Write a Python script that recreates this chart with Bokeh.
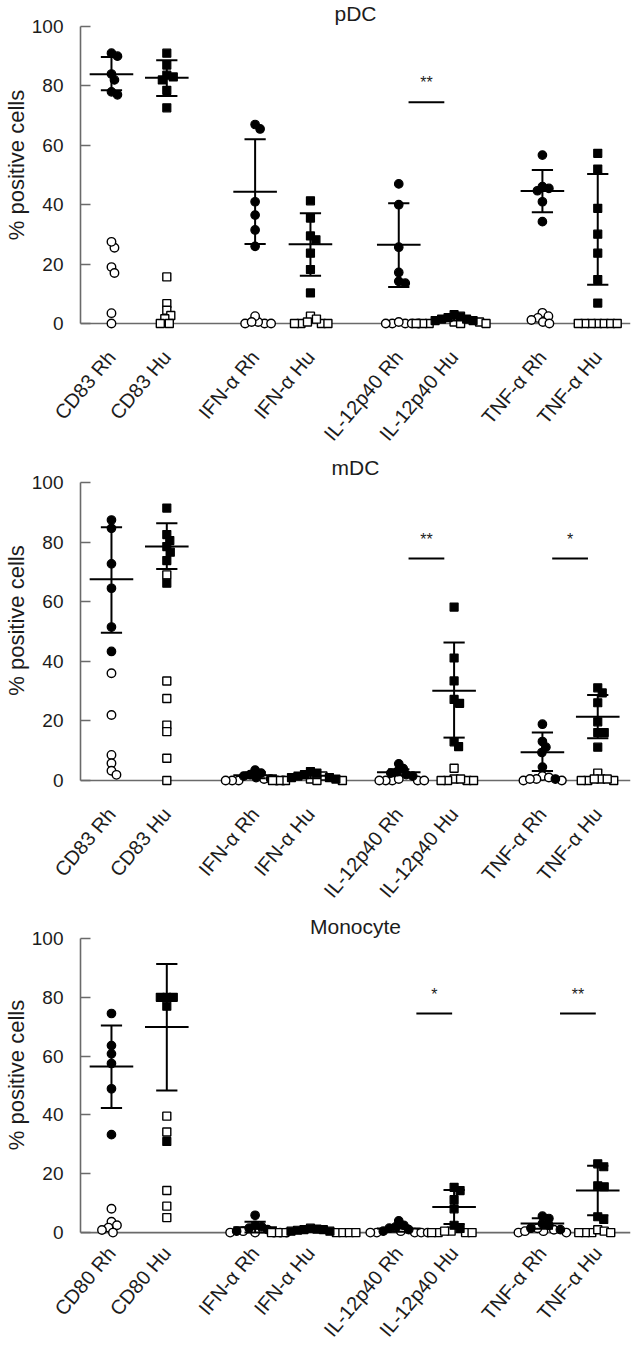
import math
from bokeh.plotting import figure
from bokeh.models import FixedTicker, Span, Label, Range1d
from bokeh.layouts import column
from bokeh.embed import file_html
from bokeh.resources import INLINE

# ---------------- data ----------------
panel_titles = ["pDC", "mDC", "Monocyte"]
categories_pdc = ["CD83 Rh", "CD83 Hu", "IFN-α Rh", "IFN-α Hu",
                  "IL-12p40 Rh", "IL-12p40 Hu", "TNF-α Rh", "TNF-α Hu"]
categories_mdc = ["CD83 Rh", "CD83 Hu", "IFN-α Rh", "IFN-α Hu",
                  "IL-12p40 Rh", "IL-12p40 Hu", "TNF-α Rh", "TNF-α Hu"]
categories_mono = ["CD80 Rh", "CD80 Hu", "IFN-α Rh", "IFN-α Hu",
                   "IL-12p40 Rh", "IL-12p40 Hu", "TNF-α Rh", "TNF-α Hu"]
y_ticks = [0, 20, 40, 60, 80, 100]

NaN = float("nan")

# filled symbols (one list per category)
pdc_filled = [
    [90, 91, 84, 82, 77, 78],
    [91, 87, 83.6, 83, 82, 78.5, 72.6],
    [67, 65.5, 41, 36.5, 31.5, 26],
    [41.3, 35.5, 29.5, 28.2, 23.7, 18.2, 10.3],
    [47, 40, 25.7, 17.2, 14.2, 13.6],
    [3, 2.5, 2, 1.5, 1.5, 1, 1],
    [56.7, 46.1, 45.5, 44.7, 41, 34.3],
    [57.3, 52, 38.8, 30.1, 23.7, 14.8, 6.9],
]
pdc_open = [
    [25.5, 27.5, 19, 17, 3.5, 0],
    [15.7, 6.7, 4.5, 2.7, 1.6, 0, 0],
    [0, 0, 0, 0.5, 2.5, 0.5],
    [2.5, 0, 0, 0, 0, 1.5, 0.5],
    [0, 0, 0, 0, 0, 0.5],
    [0.5, 0, 0, 0.5, 0, 0, 0],
    [3.6, 2.5, 1.9, 1.2, 0.5, 0],
    [0, 0, 0, 0, 0, 0, 0],
]
pdc_mean = [83.9, 82.7, 44.4, 26.7, 26.5, 1.8, 44.6, NaN]
pdc_lo = [78.5, 76.6, 26.8, 16.1, 12.3, 1.0, 37.5, 13.1]
pdc_hi = [89.7, 88.6, 62.0, 37.1, 40.5, 2.6, 51.7, 50.3]
pdc_sig = [(2, "**")]

mdc_filled = [
    [87.4, 84.6, 72.7, 64.5, 51.5, 43.3],
    [91.4, 82.5, 80.5, 78.5, 76.6, 73.8, 66.2],
    [3.5, 2.5, 2, 1.5, 1, 0.5],
    [3, 2.5, 2, 1.5, 1, 1, 0.5],
    [5.6, 4, 3, 2.5, 2, 1.5],
    [58.2, 41.1, 33.4, 27.2, 25.9, 13, 11.4],
    [18.9, 13.1, 11.2, 9.4, 4.5, 0.5],
    [31.1, 29.4, 26.1, 19.7, 16.1, 16.1, 11.2],
]
mdc_open = [
    [36, 22, 8.6, 5.8, 3.3, 1.9],
    [69, 33.4, 27.5, 18.6, 16.4, 7.5, 0],
    [0, 0, 0, 0.5, 0, 0],
    [1.5, 0.5, 0, 0, 0, 0, 0],
    [0, 0, 0, 0, 0.5, 0],
    [4.1, 0.5, 0, 0, 0.5, 0, 0],
    [1.5, 0.5, 0, 0, 0.5, 1],
    [2.5, 0.5, 0, 0, 0.5, 0, 0.5],
]
mdc_mean = [67.5, 78.5, 1.8, 1.6, 2.8, 30.1, 9.5, 21.4]
mdc_lo = [49.6, 71.0, 0.8, 0.8, 1.8, 14.4, 3.2, 14.2]
mdc_hi = [85.0, 86.3, 2.8, 2.4, 3.8, 46.3, 16.1, 28.7]
mdc_sig = [(2, "**"), (3, "*")]

mono_filled = [
    [74.5, 63.6, 60.8, 57.5, 48.9, 33.3],
    [80, 80, 80, 77, 31],
    [5.9, 2.5, 2, 1.5, 1, 0.5],
    [1.5, 1.2, 1, 1, 0.8, 0.5, 0.5],
    [4, 2.5, 2, 1.5, 1, 0.5],
    [15.4, 14.3, 11.2, 8.1, 2.5, 1.4],
    [5.6, 4.8, 3, 2.5, 1.5, 1],
    [23.4, 22.4, 15.9, 15.6, 5.4, 4.5],
]
mono_open = [
    [8.1, 3.7, 2.5, 1.7, 0.9, 0],
    [39.6, 34.2, 14.3, 9, 5.1],
    [0, 0, 0, 0.5, 0, 0],
    [0, 0, 0, 0, 0, 0, 0],
    [0, 0.5, 0, 0, 0, 0],
    [0.5, 0, 0, 0.5, 0, 0],
    [0, 0.5, 1.5, 0, 0.5, 1],
    [0, 0, 1, 0.5, 0, 0],
]
mono_mean = [56.5, 69.9, 1.8, 0.8, 1.4, 8.7, 3.1, 14.3]
mono_lo = [42.4, 48.3, 0.0, 0.3, 0.3, 2.9, 1.3, 5.9]
mono_hi = [70.4, 91.3, 3.7, 1.3, 2.5, 14.5, 4.9, 22.7]
mono_sig = [(2, "*"), (3, "**")]

# ---------------- layout / style ----------------
FONT = "Liberation Sans"
AXIS_COL = "#6a6a6a"
TXT_COL = "#1c1c1c"
PAIR_STEP = 2.57
SUB_STEP = 0.99
X0, X1 = -0.554, 9.286
Y0 = -2.0
W = 638
LEFT = 79
RIGHT = 8
PX_PER_X = (W - LEFT - RIGHT) / (X1 - X0)
LABEL_ANGLE = math.radians(50)

panel_layout = [
    dict(h=454, frame=330, title_px=13, standoff=24),
    dict(h=457, frame=333, title_px=13, standoff=24),
    dict(h=439, frame=328, title_px=15, standoff=11),
]
panel_px_per_y = [2.98, 2.99, 2.95]
sig_dx = [0.0, 0.0, 0.14]
SIG_LINE_Y = 74.5
SIG_TEXT_Y = 81.0


def cat_pos(i):
    return (i // 2) * PAIR_STEP + (i % 2) * SUB_STEP


def swarm(vals, py, diam=6.5):
    order = sorted(range(len(vals)), key=lambda k: -vals[k])
    placed = []
    offs = [0.0] * len(vals)
    for i in order:
        y = vals[i] * py
        k = 0
        found = None
        while found is None:
            cands = [0.0] if k == 0 else [k * 0.5, -k * 0.5]
            for c in cands:
                if all((c - a) ** 2 + (y - b) ** 2 >= diam ** 2 for a, b in placed):
                    found = c
                    break
            k += 1
        offs[i] = found
        placed.append((found, y))
    return offs


def make_panel(idx, title, cats, filled, opened, mean, lo, hi, sig):
    lay = panel_layout[idx]
    py = panel_px_per_y[idx]
    y1 = Y0 + lay["frame"] / py
    p = figure(width=W, height=lay["h"], x_range=Range1d(X0, X1),
               y_range=Range1d(Y0, y1), output_backend="svg",
               toolbar_location=None, title=None,
               min_border_left=LEFT, min_border_right=RIGHT,
               min_border_top=0, min_border_bottom=lay["h"] - lay["frame"])
    p.outline_line_color = None
    p.grid.visible = False
    p.background_fill_color = "white"
    p.border_fill_color = "white"

    positions = [cat_pos(i) for i in range(len(cats))]

    # x axis
    xa = p.xaxis[0]
    xa.ticker = FixedTicker(ticks=positions)
    xa.major_label_overrides = {pos: c for pos, c in zip(positions, cats)}
    xa.axis_line_color = None
    xa.major_tick_line_color = None
    xa.major_tick_in = 0
    xa.major_tick_out = 0
    xa.minor_tick_line_color = None
    xa.minor_tick_in = 0
    xa.minor_tick_out = 0
    xa.major_label_orientation = LABEL_ANGLE
    xa.major_label_standoff = lay["standoff"]
    xa.major_label_text_font = FONT
    xa.major_label_text_font_size = "20px"
    xa.major_label_text_color = TXT_COL

    # y axis
    ya = p.yaxis[0]
    ya.ticker = FixedTicker(ticks=y_ticks)
    ya.bounds = (0, 100)
    ya.major_tick_in = 10
    ya.major_tick_out = 0
    ya.minor_tick_line_color = None
    ya.minor_tick_in = 0
    ya.minor_tick_out = 0
    ya.axis_line_color = AXIS_COL
    ya.axis_line_width = 1.6
    ya.major_tick_line_color = AXIS_COL
    ya.major_tick_line_width = 1.6
    ya.major_label_standoff = 17
    ya.major_label_text_font = FONT
    ya.major_label_text_font_size = "19px"
    ya.major_label_text_color = TXT_COL
    ya.axis_label = "% positive cells"
    ya.axis_label_text_font = FONT
    ya.axis_label_text_font_size = "22px"
    ya.axis_label_text_font_style = "normal"
    ya.axis_label_text_color = TXT_COL
    ya.axis_label_standoff = 0

    p.add_layout(Span(location=0, dimension="width", line_color=AXIS_COL,
                      line_width=1.6, level="underlay"))

    # points
    for i, pos in enumerate(positions):
        marker = "circle" if i % 2 == 0 else "square"
        vals = list(opened[i]) + list(filled[i])
        kinds = [0] * len(opened[i]) + [1] * len(filled[i])
        offs = swarm(vals, py)
        xs_o = [pos + o / PX_PER_X for o, k in zip(offs, kinds) if k == 0]
        ys_o = [v for v, k in zip(vals, kinds) if k == 0]
        xs_f = [pos + o / PX_PER_X for o, k in zip(offs, kinds) if k == 1]
        ys_f = [v for v, k in zip(vals, kinds) if k == 1]
        sz = 8.5 if marker == "circle" else 8
        p.scatter(xs_o, ys_o, marker=marker, size=sz, fill_color="white",
                  line_color="black", line_width=1.4)
        p.scatter(xs_f, ys_f, marker=marker, size=sz, fill_color="black",
                  line_color="black", line_width=1.2)

    # error bars (mean +/- SD)
    cap = 0.19
    mw = 0.39
    vx, vy0, vy1 = [], [], []
    cx0, cx1, cy = [], [], []
    mx0, mx1, my = [], [], []
    for i, pos in enumerate(positions):
        if not math.isnan(lo[i]):
            vx.append(pos); vy0.append(lo[i]); vy1.append(hi[i])
            cx0 += [pos - cap, pos - cap]; cx1 += [pos + cap, pos + cap]
            cy += [lo[i], hi[i]]
        if not math.isnan(mean[i]):
            mx0.append(pos - mw); mx1.append(pos + mw); my.append(mean[i])
    p.segment(vx, vy0, vx, vy1, line_color="black", line_width=2)
    p.segment(cx0, cy, cx1, cy, line_color="black", line_width=2)
    p.segment(mx0, my, mx1, my, line_color="black", line_width=2)

    # significance marks
    sx0, sx1, sy, tx, tt = [], [], [], [], []
    for g, txt in sig:
        c = (cat_pos(2 * g) + cat_pos(2 * g + 1)) / 2 + sig_dx[idx]
        sx0.append(c - 0.32); sx1.append(c + 0.32); sy.append(SIG_LINE_Y)
        tx.append(c); tt.append(txt)
    p.segment(sx0, sy, sx1, sy, line_color="black", line_width=2)
    p.text(tx, [SIG_TEXT_Y] * len(tx), text=tt, text_align="center",
           text_baseline="alphabetic", text_font_size="16px",
           text_color="#1c1c1c")

    # panel title
    ty = y1 - lay["title_px"] / py
    p.add_layout(Label(x=(X0 + X1) / 2, y=ty, text=title, text_align="center",
                       text_baseline="middle", text_font=FONT,
                       text_font_size="21px", text_color=TXT_COL))
    return p


p1 = make_panel(0, panel_titles[0], categories_pdc, pdc_filled, pdc_open,
                pdc_mean, pdc_lo, pdc_hi, pdc_sig)
p2 = make_panel(1, panel_titles[1], categories_mdc, mdc_filled, mdc_open,
                mdc_mean, mdc_lo, mdc_hi, mdc_sig)
p3 = make_panel(2, panel_titles[2], categories_mono, mono_filled, mono_open,
                mono_mean, mono_lo, mono_hi, mono_sig)

layout = column(p1, p2, p3, spacing=0)
open("out.html", "w").write(file_html(layout, INLINE))
